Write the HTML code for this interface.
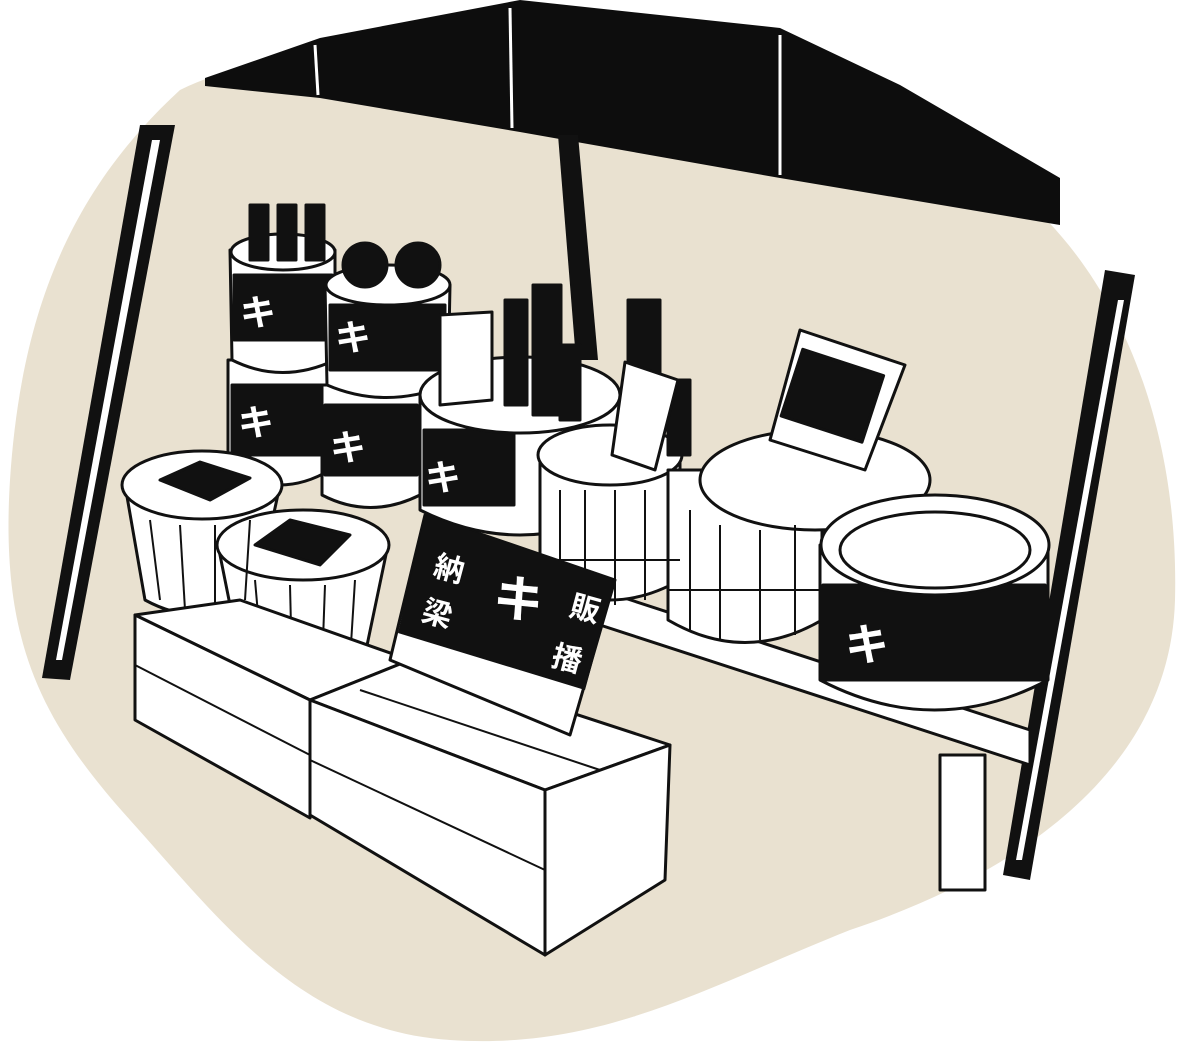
<!DOCTYPE html>
<html><head><meta charset="utf-8"><style>html,body{margin:0;padding:0;background:#fff}svg{display:block}text{font-family:"Liberation Sans","Noto Sans CJK JP",sans-serif}</style></head>
<body>
<svg width="1180" height="1050" viewBox="0 0 1180 1050" xmlns="http://www.w3.org/2000/svg" stroke-linejoin="round">
<path d="M180 90 C260 50 400 40 560 60 C750 70 900 100 1000 180 C1100 250 1180 400 1175 600 C1170 780 1000 880 850 930 C700 990 600 1050 450 1040 C300 1030 220 920 130 820 C40 720 0 640 10 480 C20 330 60 200 180 90 Z" fill="#e9e1d0"/>
<polygon points="205,78 320,38 520,0 780,28 900,85 1060,178 1060,225 780,178 520,132 320,98 205,86" fill="#0d0d0d"/>
<g stroke="#fff" stroke-width="3"><line x1="315" y1="45" x2="318" y2="95"/><line x1="510" y1="8" x2="512" y2="128"/><line x1="780" y1="35" x2="780" y2="175"/></g>
<polygon points="140,125 175,125 70,680 42,678" fill="#111"/><polygon points="152,140 160,140 62,660 56,660" fill="#fff"/>
<polygon points="558,135 578,135 598,360 576,360" fill="#111"/>
<polygon points="1105,270 1135,275 1030,880 1003,875" fill="#111"/><polygon points="1118,300 1124,300 1022,860 1016,860" fill="#fff"/>
<g stroke="#111" stroke-width="3" fill="#fff">
<polygon points="600,590 1030,730 1030,765 600,625"/>
<rect x="940" y="755" width="45" height="135"/>
<path d="M228 360 L228 470 Q280 500 330 470 L330 360 Z"/><rect x="232" y="385" width="94" height="70" fill="#111"/>
<path d="M230 250 L232 360 Q282 385 335 360 L335 250 Z"/><ellipse cx="283" cy="252" rx="52" ry="18"/><rect x="234" y="275" width="98" height="65" fill="#111"/>
<path d="M322 385 L322 495 Q370 520 420 495 L420 385 Z"/><rect x="325" y="405" width="92" height="70" fill="#111"/>
<path d="M325 285 L327 385 Q385 410 448 385 L450 285 Z"/><ellipse cx="388" cy="285" rx="62" ry="20"/><rect x="330" y="305" width="115" height="65" fill="#111"/>
<path d="M420 395 L420 510 Q520 560 620 510 L620 395 Z"/><rect x="424" y="430" width="90" height="75" fill="#111"/><ellipse cx="520" cy="395" rx="100" ry="38"/>
<path d="M540 455 L540 580 Q610 620 680 580 L680 455 Z"/><ellipse cx="610" cy="455" rx="72" ry="30"/>
<path d="M668 470 L668 620 Q745 665 822 620 L822 470 Z"/>
<ellipse cx="815" cy="480" rx="115" ry="50"/>
<path d="M820 545 L820 680 Q935 740 1048 680 L1048 545 Z"/><rect x="823" y="585" width="222" height="95" fill="#111"/><ellipse cx="935" cy="545" rx="114" ry="50"/><ellipse cx="935" cy="550" rx="95" ry="38"/>
<path d="M125 485 L145 600 Q200 630 255 600 L280 485 Z"/><ellipse cx="202" cy="485" rx="80" ry="34"/><polygon points="160,480 200,462 250,478 210,500" fill="#111"/>
<path d="M218 545 L240 655 Q300 685 365 655 L388 545 Z"/><ellipse cx="303" cy="545" rx="86" ry="35"/><polygon points="255,545 290,520 350,535 320,565" fill="#111"/>
</g>
<!-- stave texture -->
<g stroke="#111" stroke-width="2">
<line x1="560" y1="490" x2="560" y2="585"/><line x1="585" y1="490" x2="585" y2="600"/><line x1="615" y1="490" x2="615" y2="605"/><line x1="645" y1="490" x2="645" y2="600"/>
<line x1="690" y1="510" x2="690" y2="630"/><line x1="720" y1="525" x2="720" y2="640"/><line x1="760" y1="530" x2="760" y2="640"/><line x1="795" y1="525" x2="795" y2="635"/>
<line x1="150" y1="520" x2="160" y2="600"/><line x1="180" y1="525" x2="185" y2="610"/><line x1="215" y1="525" x2="215" y2="612"/><line x1="250" y1="520" x2="245" y2="600"/>
<line x1="255" y1="580" x2="262" y2="660"/><line x1="290" y1="585" x2="292" y2="668"/><line x1="325" y1="585" x2="322" y2="668"/><line x1="355" y1="580" x2="350" y2="660"/>
<line x1="540" y1="560" x2="680" y2="560"/><line x1="668" y1="590" x2="822" y2="590"/>
</g>
<g stroke="#111" stroke-width="3" fill="#fff">
<polygon points="135,615 240,600 410,660 310,700"/>
<polygon points="135,615 310,700 310,818 135,720"/>
<polygon points="310,700 410,660 670,745 545,790"/>
<polygon points="310,700 545,790 545,955 310,815"/>
<polygon points="545,790 670,745 665,880 545,955"/>
<g fill="#111"><rect x="250" y="205" width="18" height="55"/><rect x="278" y="205" width="18" height="55"/><rect x="306" y="205" width="18" height="55"/>
<rect x="505" y="300" width="22" height="105"/><rect x="533" y="285" width="28" height="130"/><rect x="560" y="345" width="20" height="75"/>
<rect x="628" y="300" width="32" height="150"/><rect x="668" y="380" width="22" height="75"/>
<circle cx="365" cy="265" r="22"/><circle cx="418" cy="265" r="22"/></g>
<polygon points="440,315 492,312 492,400 440,405"/><polygon points="625,362 678,380 655,470 612,455"/>
<polygon points="800,330 905,365 865,470 770,440"/><rect x="790" y="360" width="85" height="70" fill="#111" transform="rotate(18 830 395)"/>
</g>
<g stroke="#111" stroke-width="2"><line x1="135" y1="665" x2="310" y2="755"/><line x1="310" y1="760" x2="545" y2="870"/><line x1="360" y1="690" x2="600" y2="770"/></g>
<polygon points="425,515 615,580 570,735 390,660" fill="#fff" stroke="#111" stroke-width="3"/>
<polygon points="425,515 615,580 585,690 398,633" fill="#111"/>
<g fill="#fff" font-size="30" font-weight="bold">
<text x="432" y="575" transform="rotate(15 432 575)">納</text><text x="420" y="620" transform="rotate(15 420 620)">梁</text>
<text x="490" y="610" font-size="50" transform="rotate(15 490 610)">キ</text>
<text x="568" y="615" transform="rotate(15 568 615)">販</text><text x="550" y="665" transform="rotate(15 550 665)">播</text></g>
<g fill="#fff" font-size="36" font-weight="bold"><text x="240" y="325">キ</text><text x="238" y="435">キ</text><text x="335" y="350">キ</text><text x="330" y="460">キ</text><text x="425" y="490">キ</text><text x="845" y="660" font-size="44">キ</text></g>
</svg>
</body></html>
